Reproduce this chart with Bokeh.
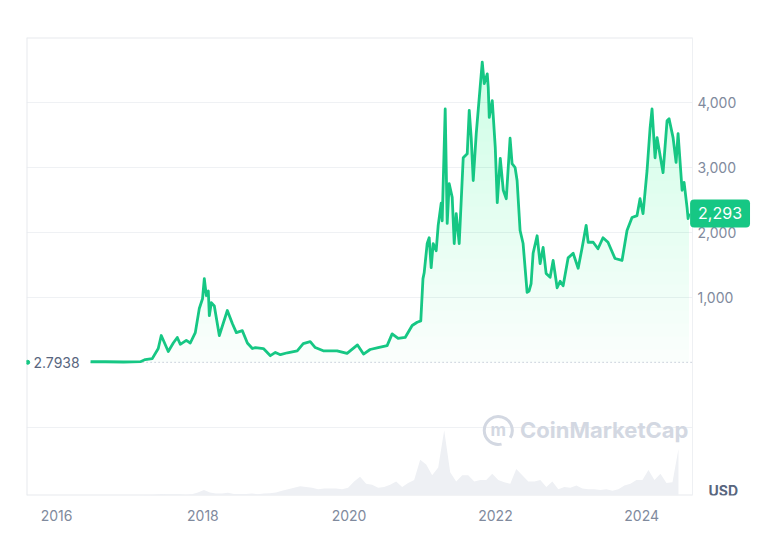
import numpy as np
import pandas as pd
from bokeh.plotting import figure
from bokeh.models import (Range1d, FixedTicker, DatetimeTickFormatter, Label)
from bokeh.embed import file_html
from bokeh.resources import INLINE

# ---------------- data ----------------
dates = [
    "2016-06-19", "2016-09-01", "2016-12-01", "2017-02-23", "2017-03-19", "2017-04-23",
    "2017-05-23", "2017-06-07", "2017-07-12", "2017-08-06", "2017-08-26", "2017-09-10",
    "2017-10-10", "2017-10-30", "2017-11-24", "2017-12-14", "2017-12-30", "2018-01-08",
    "2018-01-18", "2018-01-28", "2018-02-02", "2018-02-12", "2018-02-27", "2018-03-24",
    "2018-05-03", "2018-05-28", "2018-06-17", "2018-07-17", "2018-08-11", "2018-09-05",
    "2018-09-20", "2018-10-30", "2018-12-04", "2018-12-29", "2019-01-23", "2019-02-27",
    "2019-04-17", "2019-05-17", "2019-06-21", "2019-07-16", "2019-08-25", "2019-11-02",
    "2019-12-22", "2020-02-12", "2020-03-13", "2020-04-15", "2020-05-25", "2020-07-09",
    "2020-08-03", "2020-09-02", "2020-10-07", "2020-11-11", "2020-12-06", "2020-12-24",
    "2021-01-04", "2021-01-10", "2021-01-25", "2021-02-04", "2021-02-14", "2021-02-24",
    "2021-03-11", "2021-03-21", "2021-04-05", "2021-04-10", "2021-04-25", "2021-05-05",
    "2021-05-15", "2021-05-30", "2021-06-09", "2021-06-19", "2021-07-04", "2021-07-24",
    "2021-08-13", "2021-08-23", "2021-09-02", "2021-09-12", "2021-09-27", "2021-10-27",
    "2021-11-06", "2021-11-21", "2021-11-26", "2021-12-01", "2021-12-16", "2021-12-31",
    "2022-01-10", "2022-01-25", "2022-02-09", "2022-02-24", "2022-03-15", "2022-03-25",
    "2022-04-09", "2022-04-19", "2022-05-04", "2022-05-19", "2022-06-08", "2022-06-18",
    "2022-06-28", "2022-07-08", "2022-07-28", "2022-08-12", "2022-08-27", "2022-09-11",
    "2022-10-01", "2022-10-16", "2022-11-05", "2022-11-20", "2022-12-05", "2022-12-30",
    "2023-01-24", "2023-02-18", "2023-03-10", "2023-03-30", "2023-04-09", "2023-05-04",
    "2023-05-28", "2023-06-22", "2023-07-17", "2023-08-21", "2023-09-25", "2023-10-20",
    "2023-11-14", "2023-12-09", "2023-12-24", "2024-01-08", "2024-01-28", "2024-02-12",
    "2024-02-22", "2024-03-08", "2024-03-18", "2024-04-17", "2024-05-07", "2024-05-17",
    "2024-06-06", "2024-06-21", "2024-07-01", "2024-07-21", "2024-07-31", "2024-08-15",
    "2024-08-20", "2024-08-25",
]
prices = [
    12, 12, 8, 13, 45, 60,
    215, 415, 170, 300, 385, 280,
    340, 300, 460, 830, 980, 1290,
    1030, 1100, 720, 920, 870, 415,
    800, 600, 460, 490, 300, 215,
    230, 215, 105, 155, 120, 150,
    180, 290, 320, 230, 180, 180,
    140, 270, 130, 200, 230, 260,
    440, 370, 385, 570, 620, 640,
    1290, 1380, 1830, 1920, 1460, 1830,
    1720, 2110, 2450, 2180, 3900, 2140,
    2750, 2540, 1830, 2290, 1830, 3150,
    3210, 3880, 3450, 2800, 3520, 4620,
    4290, 4440, 4230, 3770, 4030, 3310,
    2460, 3140, 2650, 2520, 3450, 3060,
    3000, 2800, 2030, 1830, 1080, 1100,
    1215, 1680, 1950, 1520, 1770, 1370,
    1310, 1570, 1150, 1250, 1180, 1610,
    1680, 1450, 1770, 2110, 1850, 1850,
    1750, 1920, 1850, 1600, 1570, 2030,
    2230, 2260, 2520, 2290, 2950, 3600,
    3900, 3150, 3460, 2920, 3720, 3750,
    3460, 3080, 3520, 2650, 2770, 2380,
    2215, 2293,
]

# monthly volume envelope (billions USD), Jul 2016 .. Aug 2024
volumes = [
    0.05, 0.05, 0.05, 0.05, 0.05, 0.05,
    0.1, 0.1, 0.3, 0.4, 1.0, 2.0, 1.5, 1.5, 1.5, 0.8, 1.5, 4.0,
    7, 4, 2.5, 2.5, 3.5, 2, 2, 2, 2.5, 1.5, 2.5, 3,
    4, 6, 8, 10, 12, 11, 10, 8, 9, 9, 9, 8,
    10, 18, 24, 15, 14, 10, 11, 14, 18, 11, 16, 20,
    46, 40, 26, 36, 84, 30, 18, 26, 26, 18, 20, 20,
    28, 20, 17, 15, 34, 26, 18, 18, 20, 11, 18, 8,
    11, 10, 13, 9, 8, 8, 7, 8, 6, 8, 13, 15,
    20, 20, 33, 20, 28, 16, 17, 60,
]
vol_start = "2016-07-15"

year_ticks = ["2016", "2018", "2020", "2022", "2024"]
price_ticks = [1000, 2000, 3000, 4000]
grid_ticks = [-1000, 1000, 2000, 3000, 4000]
first_price = 2.7938
last_price = 2293

# ---------------- styling ----------------
GREEN = "#16c784"
TXT = "#808a9d"
DARK = "#58667e"
FONT = "Inter"
EDGE = "#e8eaee"

x = pd.to_datetime(dates)
pr = np.array(prices, dtype=float)
vx = pd.date_range(vol_start, periods=len(volumes), freq="30D")

# plotting box (data area) and the wider frame that also holds the right-hand labels
x_start = pd.Timestamp("2015-08-04")
x_end = pd.Timestamp("2024-09-11")
y_lo, y_hi = -2046, 5000
frame_end = x_start + (x_end - x_start) * (750 / 666)


def ms(ts):
    return pd.Timestamp(ts).value / 1e6


p = figure(width=776, height=546, x_axis_type="datetime", y_axis_location=None,
           x_range=Range1d(x_start, frame_end), y_range=Range1d(y_lo, y_hi),
           output_backend="svg", toolbar_location=None,
           min_border_left=26, min_border_right=0, min_border_top=37,
           min_border_bottom=51)
p.extra_y_ranges = {"vol": Range1d(0, 590)}
p.background_fill_color = "white"
p.border_fill_color = "white"
p.outline_line_color = None
p.xgrid.visible = False
p.ygrid.visible = False

# grid lines and box edges of the data area
n = len(grid_ticks)
p.segment(x0=[x_start] * n, x1=[x_end] * n, y0=grid_ticks, y1=grid_ticks,
          line_color="#eff1f4", line_width=1)
p.segment(x0=[x_start, x_start], x1=[x_end, x_end], y0=[y_hi, y_lo], y1=[y_hi, y_lo],
          line_color=EDGE, line_width=2)
p.segment(x0=[x_start], x1=[x_start], y0=[y_lo], y1=[y_hi], line_color=EDGE, line_width=2)
p.segment(x0=[x_end], x1=[x_end], y0=[y_lo], y1=[y_hi], line_color="#eef0f3", line_width=1)

# volume
p.varea(x=vx, y1=np.zeros(len(volumes)), y2=volumes, y_range_name="vol",
        fill_color="#eef0f4", fill_alpha=1.0)

# gradient fill under price line (stacked translucent layers)
p.varea(x=x, y1=np.zeros(len(pr)), y2=pr, fill_color=GREEN, fill_alpha=0.025)
for lvl in range(200, 4800, 200):
    p.varea(x=x, y1=np.full(len(pr), float(lvl)), y2=np.maximum(pr, lvl),
            fill_color=GREEN, fill_alpha=0.009)

# baseline dotted line at first price
p.line(x=[x[0], x_end], y=[first_price, first_price], line_color="#a6b0c3",
       line_width=1, line_dash="1 3")

# price line
p.line(x=x, y=pr, line_color=GREEN, line_width=2.8, line_join="round")

# small dot at left
p.scatter(x=[x_start + pd.Timedelta(days=6)], y=[first_price], size=4,
          fill_color=GREEN, line_color=GREEN)

# right-hand price tick labels
p.text(x=[x_end] * len(price_ticks), y=price_ticks,
       text=[f"{t:,}" for t in price_ticks], x_offset=5,
       text_font={"value": FONT}, text_font_size={"value": "14px"},
       text_color=TXT, text_baseline="middle", text_align="left")

# x axis
xax = p.xaxis[0]
xax.ticker = FixedTicker(ticks=[ms(f"{y}-01-01") for y in year_ticks])
xax.formatter = DatetimeTickFormatter(years="%Y", months="%Y", days="%Y",
                                      hours="%Y", hourmin="%Y")
xax.axis_line_color = None
xax.major_tick_line_color = None
xax.minor_tick_line_color = None
xax.major_label_text_color = TXT
xax.major_label_text_font = FONT
xax.major_label_text_font_size = "14px"
xax.major_label_standoff = 8

# labels
p.add_layout(Label(x=ms(x_start), y=first_price, x_offset=7, text=f"{first_price}",
                   text_font=FONT, text_font_size="14px", text_color=DARK,
                   text_baseline="middle", text_align="left"))

p.add_layout(Label(x=ms(x[-1]), y=last_price, x_offset=1, text=f"{last_price:,}",
                   text_font=FONT, text_font_size="16px", text_color="white",
                   text_baseline="middle", text_align="left",
                   background_fill_color=GREEN, background_fill_alpha=1.0,
                   padding=8, border_radius=4))

p.add_layout(Label(x=ms(x_end), y=-1969, x_offset=16, text="USD",
                   text_font=FONT, text_font_size="14px", text_font_style="bold",
                   text_color=DARK, text_baseline="middle", text_align="left"))

# watermark
WM = "#d3d8e2"
p.arc(x=[ms("2022-01-15")], y=[-1046], radius=14, radius_units="screen",
      start_angle=-0.55, end_angle=4.95, line_color=WM, line_width=3)
p.add_layout(Label(x=ms("2022-01-15"), y=-1046, text="m", text_font=FONT,
                   text_font_size="17px", text_font_style="bold", text_color=WM,
                   text_baseline="middle", text_align="center"))
p.add_layout(Label(x=ms("2022-05-04"), y=-1046, text="CoinMarketCap", text_font=FONT,
                   text_font_size="22px", text_font_style="bold", text_color=WM,
                   text_baseline="middle", text_align="left"))

open("out.html", "w").write(file_html(p, INLINE))
